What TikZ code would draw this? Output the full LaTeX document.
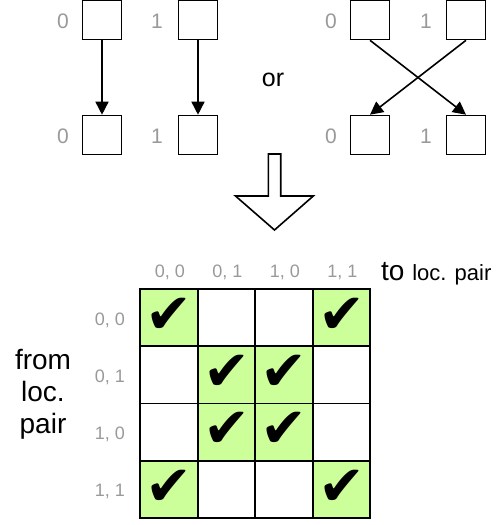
\documentclass[tikz,border=0pt]{standalone}
\usepackage{fontspec}
\setmainfont{Liberation Sans}
\newfontfamily\symfont{DejaVu Sans}
\usetikzlibrary{arrows.meta}
\definecolor{lbl}{HTML}{999999}
\definecolor{okgreen}{HTML}{CCFF99}
\tikzset{
  sq/.style={draw, line width=1.6pt, minimum width=39pt, minimum height=39pt, inner sep=0pt},
  lab/.style={text=lbl, font=\fontsize{21}{21}\selectfont, inner sep=0pt},
  hdr/.style={text=lbl, font=\fontsize{18}{18}\selectfont, inner sep=0pt},
  conn/.style={draw, line width=1.6pt, -{Triangle[length=13pt,width=13pt]}},
  cell/.style={draw, line width=1.6pt, minimum width=57.5pt, minimum height=57.3pt, inner sep=0pt},
  okcell/.style={cell, fill=okgreen},
  chk/.style={font=\symfont\fontsize{56}{56}\selectfont, inner sep=0pt},
  big/.style={font=\fontsize{28}{32}\selectfont, inner sep=0pt, align=center}
}
\begin{document}
\begin{tikzpicture}[x=1pt,y=-1pt]
\useasboundingbox (0,0) rectangle (497,525);
% left group
\node[sq] (a0) at (102,20) {};
\node[sq] (a1) at (198,20) {};
\node[sq] (b0) at (102,135) {};
\node[sq] (b1) at (198,135) {};
\node[lab] (la0) at (63,21) {0};
\node[lab] (la1) at (157,21) {1};
\node[lab] (lb0) at (63,136) {0};
\node[lab] (lb1) at (157,136) {1};
\draw[conn] (a0) -- (b0);
\draw[conn] (a1) -- (b1);
\node[font=\fontsize{25}{25}\selectfont, inner sep=0pt] (or) at (273,80) {or};
% right group
\node[sq] (c0) at (370,20) {};
\node[sq] (c1) at (466,20) {};
\node[sq] (d0) at (370,135) {};
\node[sq] (d1) at (466,135) {};
\node[lab] (lc0) at (331,21) {0};
\node[lab] (lc1) at (426,21) {1};
\node[lab] (ld0) at (331,136) {0};
\node[lab] (ld1) at (426,136) {1};
\draw[conn] (c0.south) -- (d1.north);
\draw[conn] (c1.south) -- (d0.north);
% hollow arrow
\draw[line width=1.6pt, fill=white] (268.3,154) -- (280.7,154) -- (280.7,196) -- (313.3,196) -- (274.5,230) -- (235.5,196) -- (268.3,196) -- cycle;
% grid
\foreach \r/\rl in {0/{0, 0},1/{0, 1},2/{1, 0},3/{1, 1}}{
  \foreach \c in {0,1,2,3}{
    \node[cell] (g\r\c) at ({169+57.5*\c},{317.5+57.3*\r}) {};
  }
  \node[hdr] (rh\r) at (110,{320+57.3*\r}) {\rl};
  \node[hdr] (ch\r) at ({170+57.5*\r},272) {\rl};
}
\foreach \r/\c in {0/0,0/3,1/1,1/2,2/1,2/2,3/0,3/3}{
  \node[okcell] (k\r\c) at (g\r\c) {};
  \node[chk] (m\r\c) at ([yshift=2pt]g\r\c) {✔};
}
\node[anchor=base west, inner sep=0pt] (to) at (381,280) {\fontsize{28}{28}\selectfont to \fontsize{22}{22}\selectfont loc. pair};
\node[big, anchor=base] (from) at (43,433) {from\\loc.\\pair};
\end{tikzpicture}
\end{document}
